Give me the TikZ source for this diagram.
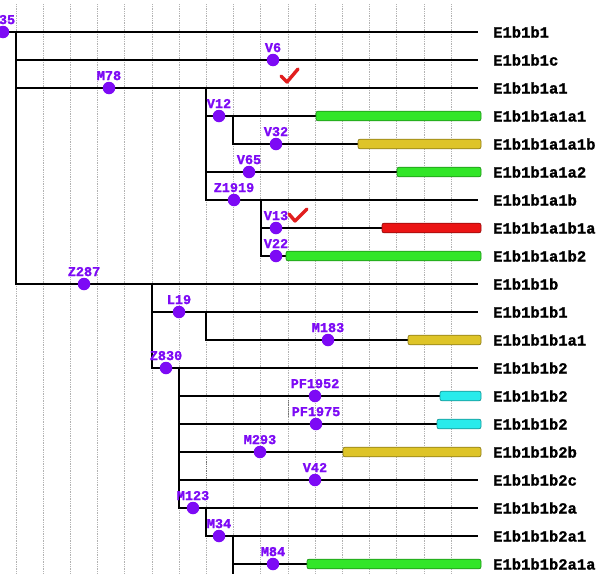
\documentclass[tikz,border=0pt]{standalone}
\usepackage{fontspec}
\setmonofont{Liberation Mono}[BoldFeatures={FakeBold=1.3}]
\definecolor{dotpurple}{RGB}{125,10,245}
\definecolor{bargreen}{RGB}{50,230,40}
\definecolor{baryellow}{RGB}{222,196,40}
\definecolor{barred}{RGB}{235,20,20}
\definecolor{barcyan}{RGB}{40,235,235}
\definecolor{checkred}{RGB}{225,30,30}
\begin{document}
\begin{tikzpicture}[x=1pt,y=-1pt,
  gridline/.style={densely dotted, gray!60, line width=0.75pt},
  darkdots/.style={densely dotted, gray!90!black, line width=0.8pt},
  branch/.style={line width=2.2pt, black},
  dot/.style={circle, fill=dotpurple, inner sep=0pt, minimum size=12.5pt},
  lab/.style={text=dotpurple, font=\ttfamily\bfseries\fontsize{13.5}{15}\selectfont, inner sep=0pt},
  leaf/.style={anchor=west, inner sep=0pt, font=\ttfamily\bfseries\fontsize{15.5}{18}\selectfont},
  barbox/.style={rounded corners=2pt, line width=0.7pt},
  check/.style={checkred, line width=3.4pt, line cap=round, line join=round}]
\useasboundingbox[fill=white] (0,0) rectangle (604,573);
% grid
\foreach \k in {0,...,16}
  \draw[gridline] ({16+27.2*\k},4) -- ({16+27.2*\k},573);
\draw[darkdots] (288,400) -- (288,417);
\draw[darkdots] (206,457) -- (206,478);
% vertical connectors
\coordinate (v1a) at (16,32);  \coordinate (v1b) at (16,284);
\coordinate (v2a) at (206,88); \coordinate (v2b) at (206,200);
\coordinate (v3a) at (233,116);\coordinate (v3b) at (233,144);
\coordinate (v4a) at (261,200);\coordinate (v4b) at (261,256);
\coordinate (v5a) at (152,284);\coordinate (v5b) at (152,368);
\coordinate (v6a) at (206,312);\coordinate (v6b) at (206,340);
\coordinate (v7a) at (179,368);\coordinate (v7b) at (179,508);
\coordinate (v8a) at (206,508);\coordinate (v8b) at (206,536);
\coordinate (v9a) at (233,536);\coordinate (v9b) at (233,575);
\foreach \v in {1,...,9}
  \draw[branch, line cap=rect] (v\v a) -- (v\v b);
% rows: index / start x / dot x / label / leaf
\def\rows{1/3/3/M35/E1b1b1, 2/16/273/V6/E1b1b1c, 3/16/109/M78/E1b1b1a1,
  4/206/219/V12/E1b1b1a1a1, 5/233/276/V32/E1b1b1a1a1b, 6/206/249/V65/E1b1b1a1a2,
  7/206/234/Z1919/E1b1b1a1b, 8/261/276/V13/E1b1b1a1b1a, 9/261/276/V22/E1b1b1a1b2,
  10/16/84/Z287/E1b1b1b, 11/152/179/L19/E1b1b1b1, 12/206/328/M183/E1b1b1b1a1,
  13/152/166/Z830/E1b1b1b2, 14/179/315/PF1952/E1b1b1b2, 15/179/316/PF1975/E1b1b1b2,
  16/179/260/M293/E1b1b1b2b, 17/179/315/V42/E1b1b1b2c, 18/179/193/M123/E1b1b1b2a,
  19/206/219/M34/E1b1b1b2a1, 20/233/273/M84/E1b1b1b2a1a}
\foreach \i/\sx/\dx/\lab/\leaf in \rows {
  \pgfmathsetmacro\yy{32+28*(\i-1)}
  \coordinate (s\i) at (\sx,\yy);
  \coordinate (e\i) at (478,\yy);
  \draw[branch] (s\i) -- (e\i);
}
% bars
\foreach \i/\bx/\bc in {4/316/bargreen, 5/358/baryellow, 6/397/bargreen,
  8/382/barred, 9/286/bargreen, 12/408/baryellow, 14/440/barcyan,
  15/437/barcyan, 16/343/baryellow, 20/307/bargreen} {
  \pgfmathsetmacro\yy{32+28*(\i-1)}
  \draw[barbox, fill=\bc, draw=\bc!65!black] (\bx,\yy-4.8) rectangle (481,\yy+4.8);
}
% dots, labels, leaves
\foreach \i/\sx/\dx/\lab/\leaf in \rows {
  \pgfmathsetmacro\yy{32+28*(\i-1)}
  \node[dot] (d\i) at (\dx,\yy) {};
  \node[lab, anchor=base] (l\i) at ([yshift=1.5pt]d\i.north) {\lab};
  \node[leaf] (t\i) at (493,\yy) {\leaf};
}
% check marks
\draw[check] (281,76) -- (287,82) -- (298,69);
\draw[check] (289,214) -- (295,221) -- (307,209);
\end{tikzpicture}
\end{document}
